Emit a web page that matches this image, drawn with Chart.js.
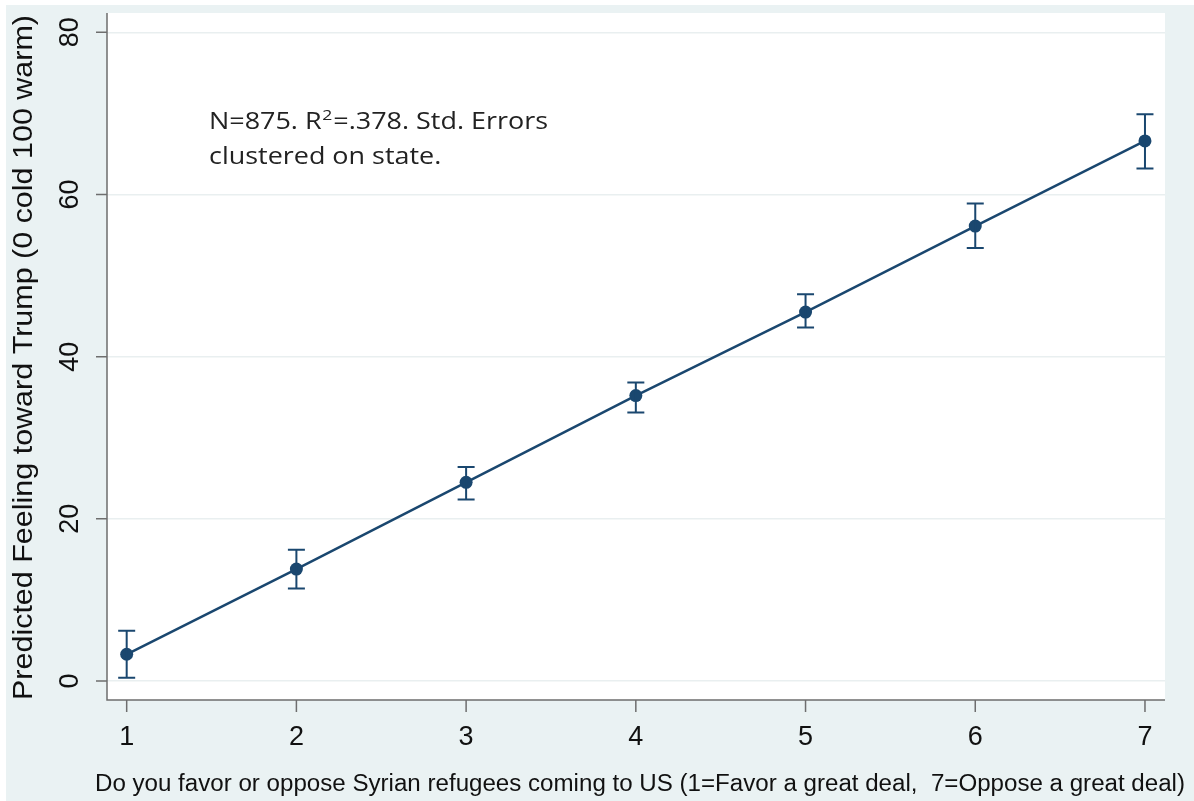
<!DOCTYPE html>
<html>
<head>
<meta charset="utf-8">
<script src="https://cdn.jsdelivr.net/npm/chart.js@4.4.1/dist/chart.umd.min.js"></script>
<style>
  html, body { margin: 0; padding: 0; background: #ffffff; }
  #wrap { width: 1194px; height: 801px; position: relative; }
</style>
</head>
<body>
<div id="wrap"><canvas id="c" width="1194" height="801"></canvas></div>
<script>
// Refugee attitude scale (1 = favor a great deal ... 7 = oppose a great deal)
const categories = [1, 2, 3, 4, 5, 6, 7];
// Predicted feeling thermometer toward Trump
const predicted = [3.3, 13.8, 24.5, 35.2, 45.5, 56.1, 66.6];
// 95% confidence bounds
const lower = [0.4, 11.4, 22.4, 33.1, 43.6, 53.4, 63.2];
const upper = [6.2, 16.2, 26.4, 36.8, 47.7, 58.9, 69.9];
// Axis ticks
const xTicks = [1, 2, 3, 4, 5, 6, 7];
const yTicks = [0, 20, 40, 60, 80];

const NAVY = '#1a476f';
const AXIS = '#6e6e6e';
const BG = '#eaf2f3';
const SANS = '"Liberation Sans", Arial, sans-serif';

const points = categories.map((c, i) => ({ x: c, y: predicted[i] }));

// Draw a centred string stretched along its own direction to a given length
function fitText(ctx, text, cx, cy, length, angle) {
  const w = ctx.measureText(text).width;
  ctx.save();
  ctx.translate(cx, cy);
  ctx.rotate(angle);
  ctx.scale(length / w, 1);
  ctx.textAlign = 'center';
  ctx.textBaseline = 'middle';
  ctx.fillText(text, 0, 0);
  ctx.restore();
}

const bgPlugin = {
  id: 'stataBackground',
  beforeDraw(chart) {
    const { ctx, chartArea: a } = chart;
    ctx.save();
    ctx.fillStyle = '#ffffff';
    ctx.fillRect(0, 0, chart.width, chart.height);
    ctx.fillStyle = BG;
    ctx.fillRect(6, 5, chart.width - 6, chart.height - 5);
    ctx.fillStyle = '#ffffff';
    ctx.fillRect(a.left, a.top, a.right - a.left, a.bottom - a.top);
    ctx.restore();
  }
};

const errorBars = {
  id: 'errorBars',
  afterDatasetsDraw(chart) {
    const { ctx } = chart;
    const xs = chart.scales.x, ys = chart.scales.y;
    ctx.save();
    ctx.strokeStyle = NAVY;
    ctx.lineWidth = 2;
    categories.forEach((c, i) => {
      const px = xs.getPixelForValue(c);
      const pl = ys.getPixelForValue(lower[i]);
      const pu = ys.getPixelForValue(upper[i]);
      ctx.beginPath();
      ctx.moveTo(px, pl); ctx.lineTo(px, pu);
      ctx.moveTo(px - 8.5, pl); ctx.lineTo(px + 8.5, pl);
      ctx.moveTo(px - 8.5, pu); ctx.lineTo(px + 8.5, pu);
      ctx.stroke();
    });
    ctx.restore();
  }
};

const axesPlugin = {
  id: 'stataAxes',
  afterDraw(chart) {
    const { ctx, chartArea: a } = chart;
    const xs = chart.scales.x, ys = chart.scales.y;
    ctx.save();
    // axis lines
    ctx.strokeStyle = AXIS;
    ctx.lineWidth = 1.5;
    ctx.beginPath();
    ctx.moveTo(a.left, a.top); ctx.lineTo(a.left, a.bottom);
    ctx.lineTo(a.right, a.bottom);
    ctx.stroke();
    // tick marks
    ctx.beginPath();
    yTicks.forEach(v => {
      const py = ys.getPixelForValue(v);
      ctx.moveTo(a.left - 11, py); ctx.lineTo(a.left, py);
    });
    xTicks.forEach(v => {
      const px = xs.getPixelForValue(v);
      ctx.moveTo(px, a.bottom); ctx.lineTo(px, a.bottom + 12);
    });
    ctx.stroke();

    ctx.fillStyle = '#111111';
    // x tick labels
    ctx.font = '27px ' + SANS;
    ctx.textAlign = 'center';
    ctx.textBaseline = 'middle';
    xTicks.forEach(v => {
      ctx.fillText(String(v), xs.getPixelForValue(v), 738);
    });
    // y tick labels (rotated)
    yTicks.forEach(v => {
      ctx.save();
      ctx.translate(71, ys.getPixelForValue(v));
      ctx.rotate(-Math.PI / 2);
      ctx.fillText(String(v), 0, 0);
      ctx.restore();
    });
    // x title
    ctx.font = '23px ' + SANS;
    fitText(ctx, 'Do you favor or oppose Syrian refugees coming to US (1=Favor a great deal,  7=Oppose a great deal)',
      640, 785, 1090, 0);
    // y title
    ctx.font = '28px ' + SANS;
    fitText(ctx, 'Predicted Feeling toward Trump (0 cold 100 warm)', 24, 357.5, 685, -Math.PI / 2);

    // model note
    ctx.textAlign = 'left';
    ctx.textBaseline = 'alphabetic';
    ctx.fillStyle = '#222222';
    const noteFont = '23px "Open Sans", Lato, sans-serif';
    const supFont = '15px "Open Sans", Lato, sans-serif';
    const x0 = 209, y1 = 129, y2 = 164;
    const p1 = 'N=875. R', p2 = '=.378. Std. Errors', p3 = 'clustered on state.';
    ctx.font = noteFont;
    const w1 = ctx.measureText(p1).width, w3 = ctx.measureText(p2).width;
    const w4 = ctx.measureText(p3).width;
    ctx.font = supFont;
    const w2 = ctx.measureText('2').width + 1.5;
    const k = 339 / (w1 + w2 + w3);
    ctx.save();
    ctx.translate(x0, 0);
    ctx.scale(k, 1);
    ctx.font = noteFont;
    ctx.fillText(p1, 0, y1);
    ctx.font = supFont;
    ctx.fillText('2', w1 + 0.5, y1 - 9);
    ctx.font = noteFont;
    ctx.fillText(p2, w1 + w2, y1);
    ctx.fillText(p3, 0, y2);
    ctx.restore();
    ctx.restore();
  }
};

new Chart(document.getElementById('c'), {
  type: 'scatter',
  data: {
    datasets: [{
      data: points,
      showLine: true,
      borderColor: NAVY,
      borderWidth: 2.5,
      backgroundColor: NAVY,
      pointBackgroundColor: NAVY,
      pointBorderColor: NAVY,
      pointRadius: 6.5,
      pointBorderWidth: 0,
      tension: 0
    }]
  },
  options: {
    responsive: false,
    animation: false,
    events: [],
    layout: { padding: { left: 107, right: 29, top: 13, bottom: 101 } },
    plugins: { legend: { display: false }, tooltip: { enabled: false } },
    scales: {
      x: {
        type: 'linear',
        min: 0.884, max: 7.118,
        ticks: { display: false },
        grid: { display: false, drawTicks: false },
        border: { display: false },
        afterFit(s) { s.height = 0; }
      },
      y: {
        type: 'linear',
        min: -2.34, max: 82.38,
        afterBuildTicks(s) { s.ticks = yTicks.map(v => ({ value: v })); },
        ticks: { display: false },
        grid: { color: '#e9eff0', lineWidth: 1.5, drawTicks: false },
        border: { display: false },
        afterFit(s) { s.width = 0; }
      }
    }
  },
  plugins: [bgPlugin, errorBars, axesPlugin]
});
</script>
</body>
</html>
